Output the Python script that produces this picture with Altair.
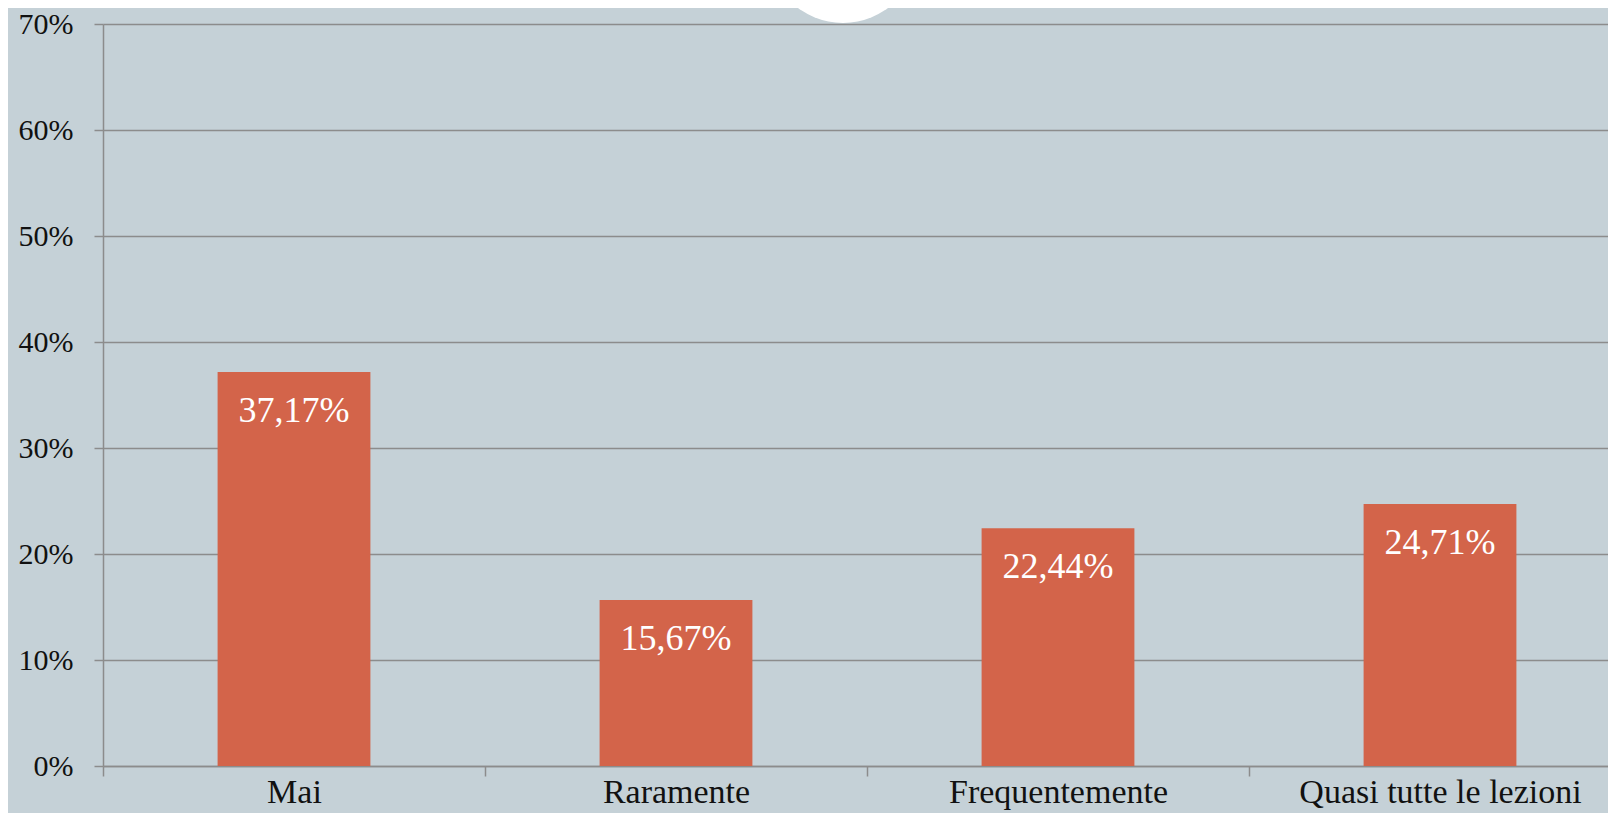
import altair as alt
import pandas as pd

categories = ["Mai", "Raramente", "Frequentemente", "Quasi tutte le lezioni"]
values = [37.17, 15.67, 22.44, 24.71]
value_labels = ["37,17%", "15,67%", "22,44%", "24,71%"]
y_ticks = [0.0, 0.1, 0.2, 0.3, 0.4, 0.5, 0.6, 0.7]

df = pd.DataFrame({
    "cat": categories,
    "val": [v / 100 for v in values],
    "label": value_labels,
})

BG = "#c5d1d7"
BAR = "#d3644a"
GRID = "#8c8c8c"
FONT = "Liberation Serif"
RANGE_W = 1528
STEP = RANGE_W / len(categories)

x_enc = alt.X(
    "cat:N",
    sort=categories,
    scale=alt.Scale(range=[0, RANGE_W], paddingInner=0.6, paddingOuter=0.3),
    axis=alt.Axis(
        title=None,
        labelAngle=0,
        tickOffset=-STEP / 2,
        labelOffset=STEP / 2,
        tickSize=10,
        tickColor=GRID,
        tickWidth=1.5,
        domainColor=GRID,
        domainWidth=1.5,
        labelFont=FONT,
        labelFontSize=34,
        labelColor="#111111",
        labelBaseline="alphabetic",
        labelPadding=26,
        labelLimit=0,
        labelOverlap=False,
        grid=False,
    ),
)

y_enc = alt.Y(
    "val:Q",
    scale=alt.Scale(domain=[0, 0.7], nice=False, zero=True),
    axis=alt.Axis(
        title=None,
        values=y_ticks,
        format=".0%",
        grid=True,
        gridColor=GRID,
        gridWidth=1.5,
        tickSize=9,
        tickColor=GRID,
        tickWidth=1.5,
        domainColor=GRID,
        domainWidth=1.5,
        labelFont=FONT,
        labelFontSize=30,
        labelColor="#111111",
        labelPadding=21,
    ),
)

bars = alt.Chart(df).mark_bar(color=BAR).encode(x=x_enc, y=y_enc)

texts = alt.Chart(df).mark_text(
    baseline="alphabetic", dy=50, color="white", font=FONT, fontSize=36
).encode(x=alt.X("cat:N", sort=categories), y="val:Q", text="label:N")

logo = alt.Chart(pd.DataFrame({"d": [0]})).mark_point(
    shape="circle", filled=True, color="white", opacity=1, size=22500, clip=False
).encode(x=alt.value(740), y=alt.value(-76))

chart = (
    alt.layer(bars, texts, logo)
    .properties(
        width=1505,
        height=742,
        background=BG,
        padding={"left": 95, "top": 16, "right": 0, "bottom": 47},
        autosize=alt.AutoSizeParams(type="none"),
    )
    .configure_view(stroke=None)
)

chart.save("out.html", embed_options={"renderer": "svg", "actions": False})
